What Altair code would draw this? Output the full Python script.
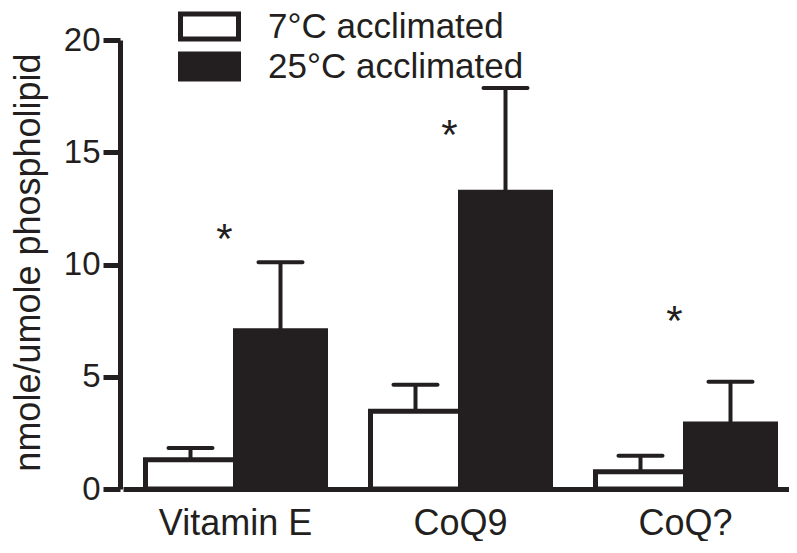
import altair as alt
import pandas as pd

categories = ["Vitamin E", "CoQ9", "CoQ?"]
groups = ["7°C acclimated", "25°C acclimated"]
mean_7 = [1.30, 3.46, 0.77]
err_7 = [0.53, 1.18, 0.71]
mean_25 = [7.05, 13.22, 2.90]
err_25 = [3.05, 4.64, 1.88]
star_y = [11.45, 16.1, 7.8]
y_ticks = [0, 5, 10, 15, 20]

rows = []
for i, c in enumerate(categories):
    rows.append({"cat": c, "grp": groups[0], "mean": mean_7[i], "upper": mean_7[i] + err_7[i]})
    rows.append({"cat": c, "grp": groups[1], "mean": mean_25[i], "upper": mean_25[i] + err_25[i]})
df = pd.DataFrame(rows)
stars = pd.DataFrame({"cat": categories, "val": star_y, "t": ["*"] * 3})

FONT = "Liberation Sans"
INK = "#231f20"

x_enc = alt.X(
    "cat:N", sort=categories, title=None,
    scale=alt.Scale(range=[3, 678], paddingInner=0.2, paddingOuter=0.1),
    axis=alt.Axis(labelAngle=0, labelFontSize=36, labelFont=FONT, labelColor=INK,
                  ticks=False, labelPadding=17, domainWidth=5, domainColor=INK),
)
y_axis = alt.Axis(values=y_ticks, title="nmole/umole phospholipid", grid=False,
                  tickSize=17, tickWidth=5, tickColor=INK, domainWidth=5, domainColor=INK,
                  labelFontSize=33, labelFont=FONT, labelColor=INK, labelPadding=3,
                  titleFontSize=36, titleFont=FONT, titleColor=INK, titleFontWeight="normal",
                  titleAngle=-90, titleAlign="center", titleBaseline="middle",
                  titleX=-92, titleY=222)
y_scale = alt.Scale(domain=[0, 20], nice=False)
xoff = alt.XOffset("grp:N", sort=groups, scale=alt.Scale(paddingInner=0, paddingOuter=0))

bars = alt.Chart(df).mark_bar(stroke=INK, strokeWidth=5).encode(
    x=x_enc,
    xOffset=xoff,
    y=alt.Y("mean:Q", scale=y_scale, axis=y_axis),
    color=alt.Color("grp:N", sort=groups,
                    scale=alt.Scale(domain=groups, range=["white", INK]),
                    legend=alt.Legend(title=None, orient="none", legendX=72, legendY=-31,
                                      symbolType="M-2,-0.86H2V0.86H-2Z", symbolSize=841,
                                      symbolStrokeWidth=5, symbolStrokeColor=INK,
                                      labelFontSize=35, labelFont=FONT, labelColor=INK,
                                      labelLimit=500, labelOffset=41, rowPadding=-5)),
)
rules = alt.Chart(df).mark_rule(strokeWidth=4, color=INK).encode(
    x=x_enc, xOffset=xoff,
    y=alt.Y("mean:Q", scale=y_scale), y2="upper:Q",
)
caps = alt.Chart(df).mark_tick(size=48, thickness=4, color=INK, cornerRadius=2,
                               orient="horizontal", opacity=1).encode(
    x=x_enc, xOffset=xoff,
    y=alt.Y("upper:Q", scale=y_scale),
)
star_text = alt.Chart(stars).mark_text(fontSize=42, dx=-11, dy=21, baseline="alphabetic",
                                       font=FONT, color=INK).encode(
    x=x_enc,
    y=alt.Y("val:Q", scale=y_scale),
    text="t:N",
)

chart = alt.layer(bars, rules, caps, star_text).properties(
    width=669, height=449,
    autosize=alt.AutoSizeParams(type="none"),
    padding={"left": 112, "top": 32, "right": 0, "bottom": 52},
    background="white",
).configure_view(stroke=None)

chart.save("out.html", embed_options={"renderer": "svg", "actions": False})
